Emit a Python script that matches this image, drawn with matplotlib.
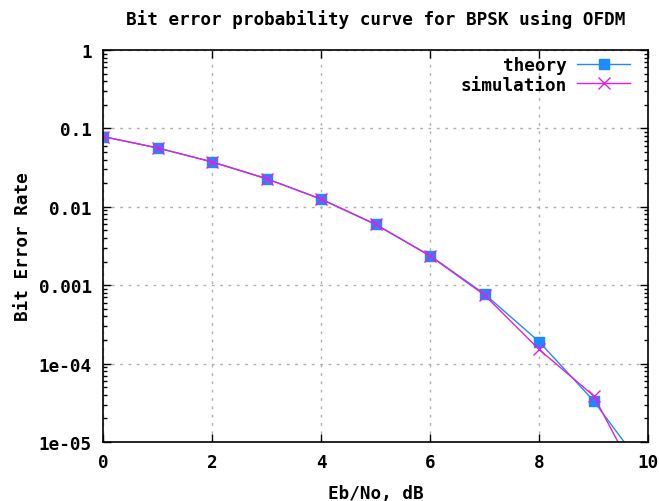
import matplotlib
matplotlib.use("Agg")
import matplotlib.pyplot as plt
from matplotlib.ticker import LogLocator, FixedLocator, NullFormatter

ebno_db = [0, 1, 2, 3, 4, 5, 6, 7, 8, 9, 10]
ber_theory = [0.0786, 0.0563, 0.0375, 0.0229, 0.0125, 0.00595, 0.00239, 0.000773, 0.000191, 3.36e-05, 3.9e-06]
ber_sim = [0.0787, 0.0565, 0.0373, 0.0228, 0.0126, 0.0060, 0.00236, 0.00075, 0.000152, 3.9e-05, 1.9e-06]
yticks = [1, 0.1, 0.01, 0.001, 1e-4, 1e-5]
ytick_labels = ["1", "0.1", "0.01", "0.001", "1e-04", "1e-05"]
xticks = [0, 2, 4, 6, 8, 10]

plt.rcParams['font.family'] = ['DejaVu Sans Mono']
plt.rcParams['font.weight'] = 'bold'
FS = 12.7

fig = plt.figure(figsize=(6.59, 5.02), dpi=100)
ax = fig.add_axes([103/659, 59/502, 545/659, 392/502])

ax.semilogy(ebno_db, ber_theory, color='#1a8cff', marker='s', markersize=7,
            linewidth=1.0, label='theory', clip_on=True)
ax.semilogy(ebno_db, ber_sim, color='#e020e0', marker='x', markersize=8,
            markeredgewidth=1.0, linewidth=1.0, label='simulation', clip_on=True)

ax.set_xlim(0, 10)
ax.set_ylim(1e-5, 1)
ax.set_xticks(xticks)
ax.set_xticklabels([str(v) for v in xticks])
ax.yaxis.set_major_locator(FixedLocator(yticks))
ax.set_yticklabels(ytick_labels)
ax.yaxis.set_minor_locator(LogLocator(base=10, subs=range(2, 10), numticks=20))
ax.yaxis.set_minor_formatter(NullFormatter())

ax.tick_params(which='both', direction='in', top=True, right=True, labelsize=FS,
               width=1.0, pad=8)
ax.tick_params(which='major', length=6)
ax.tick_params(which='minor', length=3)
for s in ax.spines.values():
    s.set_linewidth(1.2)

ax.grid(True, which='major', linestyle=(0, (2, 4)), color='#b0b0b0', linewidth=1.0)

ax.set_xlabel('Eb/No, dB', fontsize=FS, fontweight='bold', labelpad=9)
ax.set_ylabel('Bit Error Rate', fontsize=FS, fontweight='bold', labelpad=5)
ax.set_title('Bit error probability curve for BPSK using OFDM', fontsize=FS,
             fontweight='bold', pad=19)

leg = ax.legend(loc='upper right', bbox_to_anchor=(1 - 9/545, 1 + 3/392),
                frameon=False, markerfirst=False, fontsize=FS,
                handlelength=3.0, borderaxespad=0.2, labelspacing=0.1,
                handletextpad=0.6, borderpad=0.3)
for t in leg.get_texts():
    t.set_ha('right')

fig.savefig('out.png', dpi=100)
